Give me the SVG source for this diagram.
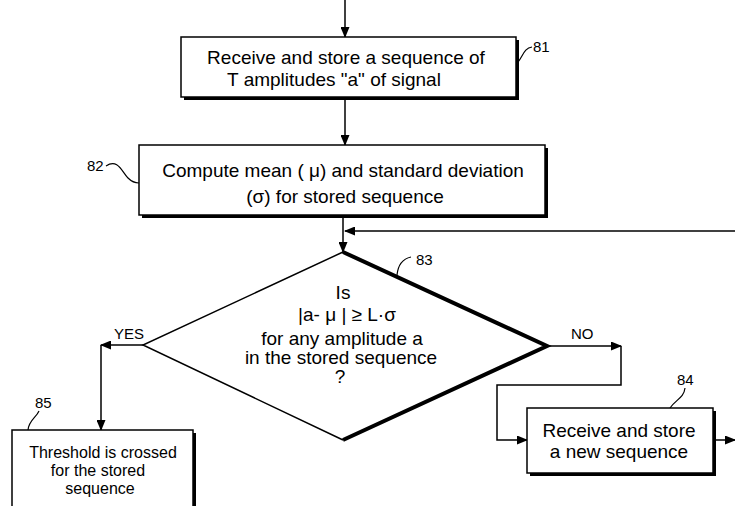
<svg xmlns="http://www.w3.org/2000/svg" width="735" height="506" viewBox="0 0 735 506">
<style>
.bx{fill:#fff;stroke:#000;stroke-width:1.5}
.sh{fill:#000}
.t{font-family:"Liberation Sans",Arial,sans-serif;font-size:19px;fill:#000;text-anchor:middle}
.s{font-size:16px}
.n{font-family:"Liberation Sans",Arial,sans-serif;font-size:15px;fill:#000}
.c{fill:none;stroke:#000;stroke-width:1.5}
.ld{fill:none;stroke:#000;stroke-width:1.2}
</style>
<defs>
<marker id="ah" markerWidth="11" markerHeight="9" refX="10" refY="4.5" orient="auto" markerUnits="userSpaceOnUse">
<path d="M0,0 L11,4.5 L0,9 z" fill="#000"/>
</marker>
</defs>
<rect width="735" height="506" fill="#fff"/>
<g id="connectors">
<path class="c" d="M345,0 V37" marker-end="url(#ah)"/>
<path class="c" d="M345,100 V145" marker-end="url(#ah)"/>
<path class="c" d="M343,218 V252" marker-end="url(#ah)"/>
<path class="c" d="M735,231 H345" marker-end="url(#ah)"/>
<path class="c" d="M143,345 H101" marker-end="url(#ah)"/>
<path class="c" d="M101,345 V430" marker-end="url(#ah)"/>
<path class="c" d="M547,346 H621" marker-end="url(#ah)"/>
<path class="c" d="M621,346 V385 H497 V440 H527" marker-end="url(#ah)"/>
<path class="c" d="M716,440 H735" marker-end="url(#ah)"/>
<text class="n" x="114" y="339">YES</text>
<text class="n" x="571" y="339">NO</text>
</g>
<g id="n81">
<rect class="sh" x="184" y="40" width="335" height="60"/>
<rect class="bx" x="181" y="37" width="335" height="60"/>
<text class="t" x="346" y="64">Receive and store a sequence of</text>
<text class="t" x="334" y="86">T amplitudes "a" of signal</text>
<path class="ld" d="M518,62 C523,56 524,48 532,47"/>
<text class="n" x="533" y="52">81</text>
</g>
<g id="n82">
<rect class="sh" x="142" y="148" width="406" height="70"/>
<rect class="bx" x="139" y="145" width="406" height="70"/>
<text class="t" x="343" y="177">Compute mean ( μ) and standard deviation</text>
<text class="t" x="345" y="203">(σ) for stored sequence</text>
<path class="ld" d="M106,166 C118,158 122,172 128,178 C132,182 135,183 139,183"/>
<text class="n" x="87" y="171">82</text>
</g>
<g id="n83">
<path d="M343,252 L143,345 L343,440" fill="none" stroke="#000" stroke-width="1.5"/>
<path d="M343,252 L547,346 L343,440" fill="none" stroke="#000" stroke-width="4"/>
<text class="t" x="343" y="299">Is</text>
<text class="t" x="347" y="321">|a- μ | ≥ L·σ</text>
<text class="t" x="342" y="345">for any amplitude a</text>
<text class="t" x="341" y="364">in the stored sequence</text>
<text class="t" x="340" y="383">?</text>
<path class="ld" d="M397,275 C398,265 402,259 411,257"/>
<text class="n" x="416" y="265">83</text>
</g>
<g id="n84">
<rect class="sh" x="530" y="411" width="186" height="65"/>
<rect class="bx" x="527" y="408" width="186" height="65"/>
<text class="t" x="619" y="437">Receive and store</text>
<text class="t" x="619" y="458">a new sequence</text>
<path class="ld" d="M670,408 C675,400 684,398 685,388"/>
<text class="n" x="677" y="385">84</text>
</g>
<g id="n85">
<rect class="sh" x="15" y="433" width="181" height="90"/>
<rect class="bx" x="12" y="430" width="181" height="90"/>
<text class="t s" x="103" y="458">Threshold is crossed</text>
<text class="t s" x="98" y="476">for the stored</text>
<text class="t s" x="100" y="494">sequence</text>
<path class="ld" d="M28,430 C29,420 36,418 39,411"/>
<text class="n" x="35" y="408">85</text>
</g>
</svg>
